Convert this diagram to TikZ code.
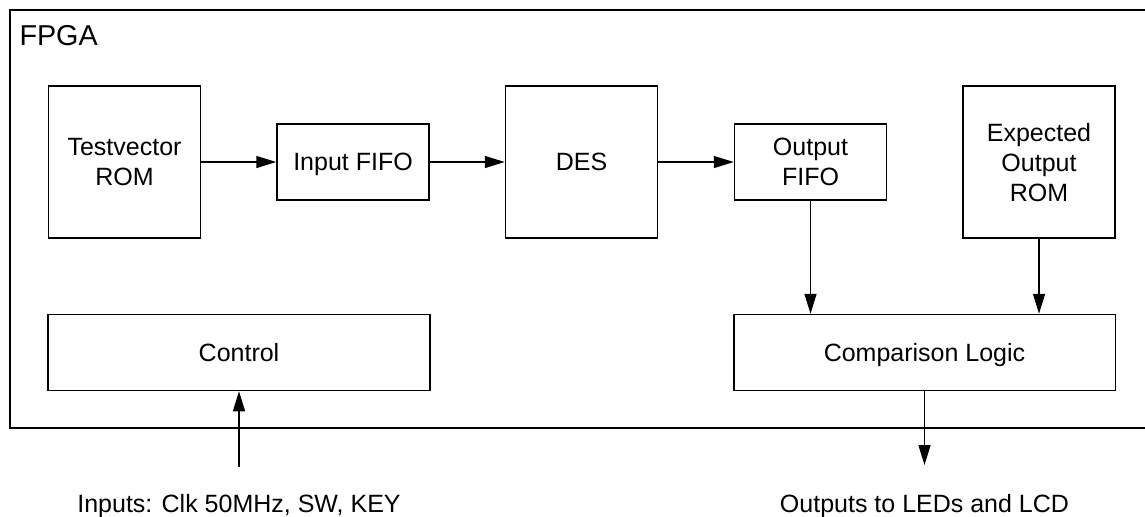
\documentclass[tikz,border=0pt]{standalone}
\usepackage{fontspec}
\setmainfont{Liberation Sans}
\usepackage{tikz}
\usetikzlibrary{
	arrows.meta,
	calc,
	positioning
}
\tikzset{
	blk/.style={draw, line width=0.6pt, align=center, inner sep=0pt, text depth=0pt,
		minimum width=60.8pt, minimum height=30.4pt},
	tallblk/.style={blk, minimum height=60.8pt},
	wideblk/.style={blk, minimum width=152.6pt},
	sig/.style={-{Triangle[length=8pt,width=4.8pt]}, line width=0.6pt}
}

\begin{document}
\begin{tikzpicture}[x=0.4pt, y=-0.4pt, font=\fontsize{10}{12}\selectfont]
		\useasboundingbox (0,0) rectangle (1145,516);
		% FPGA frame (runs off the right edge)
		\draw[line width=0.6pt] (1145,10) -- (10,10) -- (10,428) -- (1145,428);
		\node[anchor=base west, inner sep=0pt, font=\fontsize{11.5}{13}\selectfont] (fpga) at (19,45) {FPGA};
		% blocks
		\node[tallblk] (rom) at (124.5,162) {Testvector\\ROM};
		\node[blk] (infifo) at (353,162) {Input FIFO};
		\node[tallblk] (des) at (581.5,162) {DES};
		\node[blk] (outfifo) at (810.5,162) {Output\\FIFO};
		\node[tallblk] (exprom) at (1039,162) {Expected\\Output\\ROM};
		\node[wideblk] (cmp) at (924.5,352.5) {Comparison Logic};
		\node[wideblk] (ctrl) at (239,352.5) {Control};
		% outside world
		\coordinate (in) at (239,467);
		\coordinate (out) at (924.5,465);
		\node[anchor=base] (inlbl) at (239,512) {Inputs: Clk 50MHz, SW, KEY};
		\node[anchor=base] (outlbl) at (924.5,512) {Outputs to LEDs and LCD};
		% data path
		\draw[sig] (rom) -- (infifo);
		\draw[sig] (infifo) -- (des);
		\draw[sig] (des) -- (outfifo);
		\draw[sig] (outfifo) -- (outfifo |- cmp.north);
		\draw[sig] (exprom) -- (exprom |- cmp.north);
		\draw[sig] (cmp) -- (out);
		\draw[sig] (in) -- (ctrl);
	\end{tikzpicture}
\end{document}
